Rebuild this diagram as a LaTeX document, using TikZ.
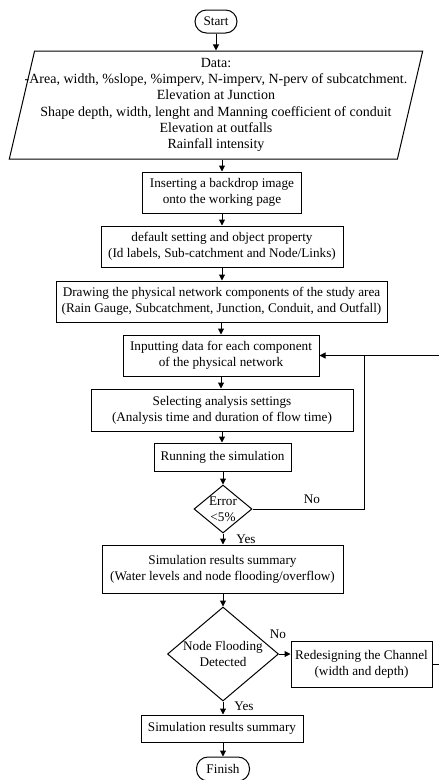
\documentclass[tikz,border=0pt]{standalone}
\usepackage{fontspec}
\setmainfont{Liberation Serif}
\usetikzlibrary{arrows.meta,shapes.geometric}
\tikzset{
  proc/.style ={draw, rectangle, inner xsep=0pt, inner ysep=2pt,
                align=center, line width=1pt},
  term/.style ={draw, rectangle, rounded corners=11.5pt, inner sep=2pt,
                minimum height=23pt, line width=1pt},
  io/.style   ={draw, trapezium, trapezium left angle=76.5,
                trapezium right angle=103.5, trapezium stretches=true,
                align=center, inner xsep=-30pt, inner ysep=0pt,
                line width=1pt, font=\fontsize{14}{16.3}\selectfont},
  dec/.style  ={draw, diamond, inner sep=0pt, line width=1pt},
  dectxt/.style={align=center, inner sep=0pt},
  flow/.style ={-{Triangle[length=6pt,width=6pt]}, line width=1pt},
  lbl/.style  ={inner sep=0pt},
}
\begin{document}
\begin{tikzpicture}[x=1pt, y=-1pt, font=\fontsize{13.2}{16.3}\selectfont]
  \useasboundingbox (0,0) rectangle (439,780);
  \node[term, minimum width=42pt] (start) at (216,21.5) {Start};
  \node[io, minimum width=414pt, minimum height=108pt] (data) at (216,105)
    {Data:\\
     -Area, width, \%slope, \%imperv, N-imperv, N-perv of subcatchment.\hspace*{14pt}\\
     Elevation at Junction\\
     Shape depth, width, lenght and Manning coefficient of conduit\\
     Elevation at outfalls\\
     Rainfall intensity};
  \node[proc, minimum width=159pt, minimum height=41pt] (insert) at (222,192.5)
    {Inserting a backdrop image\\onto the working page};
  \node[proc, minimum width=242pt, minimum height=41pt] (dflt) at (222,246.5)
    {default setting and object property\\(Id labels, Sub-catchment and Node/Links)};
  \node[proc, minimum width=331pt, minimum height=41pt] (drawnet) at (221.5,301.5)
    {Drawing the physical network components of the study area\\
     (Rain Gauge, Subcatchment, Junction, Conduit, and Outfall)};
  \node[proc, minimum width=196pt, minimum height=41pt] (input) at (221,355.5)
    {Inputting data for each component\\of the physical network};
  \node[proc, minimum width=262pt, minimum height=42pt] (anl) at (222,410)
    {Selecting analysis settings\\(Analysis time and duration of flow time)};
  \node[proc, minimum width=137pt, minimum height=28pt] (run) at (222.5,457)
    {Running the simulation};
  \node[dec, minimum width=58pt, minimum height=48pt] (err) at (223,509) {};
  \node[dectxt] (errtxt) at (err) {Error\\<5\%};
  \node[proc, minimum width=241pt, minimum height=48pt] (res) at (222.5,569)
    {Simulation results summary\\(Water levels and node flooding/overflow)};
  \node[dec, minimum width=111pt, minimum height=94pt] (flood) at (223,654) {};
  \node[dectxt] (floodtxt) at (flood) {Node Flooding\\Detected};
  \node[proc, minimum width=141pt, minimum height=46pt] (redes) at (361.5,664)
    {Redesigning the Channel\\(width and depth)};
  \node[proc, minimum width=162pt, minimum height=27pt] (sumres) at (222,728.5)
    {Simulation results summary};
  \node[term, minimum width=53pt, minimum height=24pt] (finish) at (223,769) {Finish};
  \coordinate (join) at (364,355.5);

  \draw[flow] (start) -- (start |- data.north);
  \draw[flow] (data.south -| insert) -- (insert);
  \draw[flow] (insert) -- (dflt);
  \draw[flow] (dflt) -- (dflt |- drawnet.north);
  \draw[flow] (drawnet.south -| input) -- (input);
  \draw[flow] (input) -- (input |- anl.north);
  \draw[flow] (anl) -- (anl |- run.north);
  \draw[flow] (run.south -| err) -- (err);
  \draw[flow] (err) -- (err |- res.north);
  \draw[flow] (res.south -| flood) -- (flood);
  \draw[flow] (flood.east) -- (flood.east -| redes.west);
  \draw[flow] (flood) -- (flood |- sumres.north);
  \draw[flow] (sumres.south -| finish) -- (finish);
  \draw[line width=1pt] (err.east) -| (join);
  \draw[flow] (redes.east) -- ++(20,0) |- (input.east);

  \node[lbl] (no1) at (312,499) {No};
  \node[lbl] (yes1) at (246,539) {Yes};
  \node[lbl] (no2) at (278,634) {No};
  \node[lbl] (yes2) at (244,706) {Yes};
\end{tikzpicture}
\end{document}
